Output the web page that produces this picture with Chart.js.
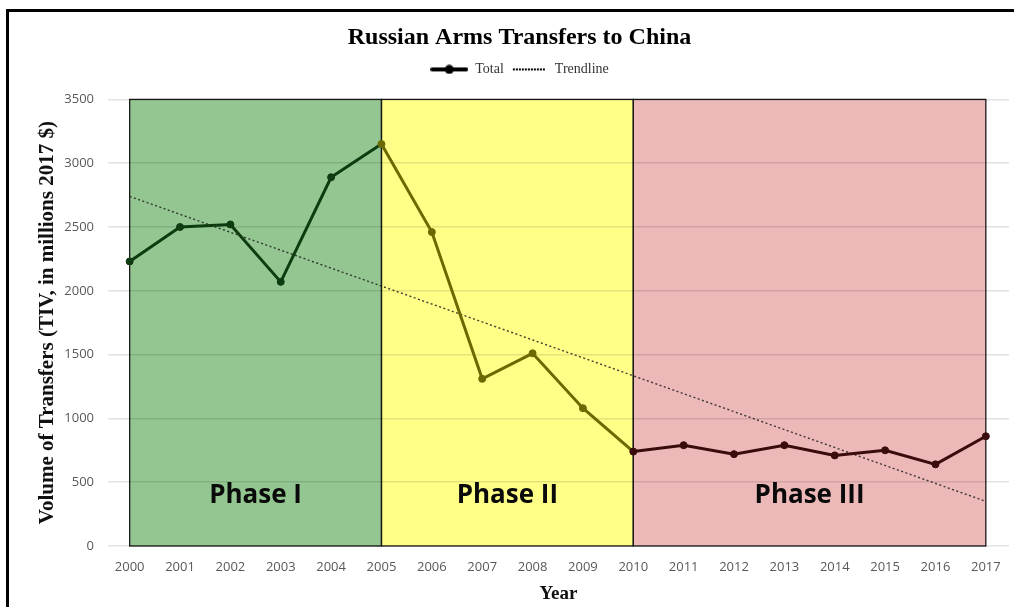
<!DOCTYPE html>
<html>
<head>
<meta charset="utf-8">
<script src="https://cdn.jsdelivr.net/npm/chart.js@4/dist/chart.umd.min.js"></script>
<style>
  html, body { margin: 0; padding: 0; background: #fff; }
  #wrap { width: 1014px; height: 607px; position: relative; }
</style>
</head>
<body>
<div id="wrap"><canvas id="c" width="1014" height="607"></canvas></div>
<script>
// ---- data ----
const chartTitle = 'Russian Arms Transfers to China';
const years = [2000, 2001, 2002, 2003, 2004, 2005, 2006, 2007, 2008, 2009, 2010, 2011, 2012, 2013, 2014, 2015, 2016, 2017];
const totals = [2230, 2500, 2520, 2070, 2890, 3150, 2460, 1310, 1510, 1080, 740, 790, 720, 790, 710, 750, 640, 860];
const trendYears = [2000, 2017];
const trendValues = [2740, 350];
const yTicks = [0, 500, 1000, 1500, 2000, 2500, 3000, 3500];
const phaseNames = ['Phase I', 'Phase II', 'Phase III'];
const phaseStart = [2000, 2005, 2010];
const phaseEnd = [2005, 2010, 2017];
const legendLabels = ['Total', 'Trendline'];
const yAxisTitle = 'Volume of Transfers (TIV, in millions 2017 $)';
const xAxisTitle = 'Year';

// ---- styles ----
const phaseFill = ['#93c690', '#ffff88', '#ecb8b8'];
const phaseLine = ['#0f3b10', '#6b6a00', '#3a0c0c'];
function phaseIndex(x) { return x < phaseStart[1] ? 0 : (x < phaseStart[2] ? 1 : 2); }

// legend icons
function makeTotalIcon() {
  const c = document.createElement('canvas'); c.width = 38; c.height = 10;
  const g = c.getContext('2d');
  g.strokeStyle = '#000'; g.lineWidth = 4; g.lineCap = 'round';
  g.beginPath(); g.moveTo(2, 5); g.lineTo(36, 5); g.stroke();
  g.fillStyle = '#000'; g.beginPath(); g.arc(19, 5, 4.5, 0, Math.PI * 2); g.fill();
  return c;
}
function makeTrendIcon() {
  const c = document.createElement('canvas'); c.width = 34; c.height = 4;
  const g = c.getContext('2d');
  g.fillStyle = '#000';
  for (let x = 1; x < 33; x += 3) g.fillRect(x, 1, 2, 2);
  return c;
}
const totalIcon = makeTotalIcon();
const trendIcon = makeTrendIcon();

const phasePlugin = {
  id: 'phases',
  beforeDraw(chart) {
    const { ctx, scales: { x, y } } = chart;
    const top = y.getPixelForValue(yTicks[yTicks.length - 1]);
    const bottom = y.getPixelForValue(0);
    ctx.save();
    for (let i = 0; i < phaseNames.length; i++) {
      const l = x.getPixelForValue(phaseStart[i]);
      const r = x.getPixelForValue(phaseEnd[i]);
      ctx.fillStyle = phaseFill[i];
      ctx.fillRect(l, top, r - l, bottom - top);
    }
    ctx.strokeStyle = '#1a1a1a';
    ctx.lineWidth = 1.3;
    for (let i = 0; i < phaseNames.length; i++) {
      const l = x.getPixelForValue(phaseStart[i]);
      const r = x.getPixelForValue(phaseEnd[i]);
      ctx.strokeRect(l, top, r - l, bottom - top);
    }
    ctx.restore();
  },
  afterDatasetsDraw(chart) {
    const { ctx, scales: { x, y } } = chart;
    const bottom = y.getPixelForValue(0);
    ctx.save();
    ctx.font = 'bold 26px "Open Sans"';
    ctx.fillStyle = '#0a0a0a';
    ctx.textAlign = 'center';
    ctx.textBaseline = 'middle';
    for (let i = 0; i < phaseNames.length; i++) {
      const cx = (x.getPixelForValue(phaseStart[i]) + x.getPixelForValue(phaseEnd[i])) / 2;
      ctx.fillText(phaseNames[i], cx, bottom - 50);
    }
    ctx.restore();
  },
  afterDraw(chart) {
    const ctx = chart.ctx;
    ctx.save();
    ctx.fillStyle = '#000';
    ctx.fillRect(6, 9, 3, 610);
    ctx.fillRect(6, 9, 1020, 3);
    ctx.restore();
  }
};

const spacerPlugin = {
  id: 'spacer',
  beforeInit(chart) {
    const box = {
      position: 'top', weight: 500, fullSize: true, options: {},
      left: 0, top: 0, right: 0, bottom: 0, width: 0, height: 0,
      isHorizontal() { return true; },
      update(maxWidth) { this.width = maxWidth; this.height = 13; },
      draw() {}
    };
    Chart.layouts.addBox(chart, box);
  }
};

new Chart(document.getElementById('c'), {
  type: 'line',
  data: {
    datasets: [
      {
        label: legendLabels[0],
        data: years.map((yr, i) => ({ x: yr, y: totals[i] })),
        borderColor: '#000',
        borderWidth: 3,
        segment: { borderColor: c => phaseLine[phaseIndex(c.p0.parsed.x)] },
        pointRadius: 3.5,
        pointBackgroundColor: c => phaseLine[phaseIndex(years[c.dataIndex])],
        pointBorderColor: c => phaseLine[phaseIndex(years[c.dataIndex])],
        pointBorderWidth: 1,
        tension: 0,
        order: 1
      },
      {
        label: legendLabels[1],
        data: trendYears.map((yr, i) => ({ x: yr, y: trendValues[i] })),
        borderColor: 'rgba(30,30,30,0.85)',
        borderWidth: 1.4,
        borderDash: [2, 2.5],
        pointRadius: 0,
        tension: 0,
        order: 2
      }
    ]
  },
  options: {
    responsive: false,
    animation: false,
    layout: { padding: { left: 30, right: 5, top: 12, bottom: 0 } },
    plugins: {
      title: {
        display: true,
        text: chartTitle,
        color: '#000',
        font: { family: '"Liberation Serif", "Times New Roman", serif', size: 24, weight: 'bold' },
        padding: { top: 11, bottom: 4.6 }
      },
      legend: {
        display: true,
        position: 'top',
        labels: {
          usePointStyle: true,
          pointStyleWidth: 38,
          padding: 6,
          color: '#333',
          font: { family: '"Liberation Serif", "Times New Roman", serif', size: 14 },
          generateLabels: () => [
            { text: legendLabels[0], pointStyle: totalIcon, fillStyle: '#000', strokeStyle: '#000', lineWidth: 0, hidden: false, datasetIndex: 0, fontColor: '#333' },
            { text: legendLabels[1], pointStyle: trendIcon, fillStyle: '#000', strokeStyle: '#000', lineWidth: 0, hidden: false, datasetIndex: 1, fontColor: '#333' }
          ]
        }
      },
      tooltip: { enabled: false }
    },
    scales: {
      x: {
        type: 'linear',
        min: 1999.57,
        max: 2017.46,
        afterBuildTicks: s => { s.ticks = years.map(v => ({ value: v })); },
        afterFit: s => { s.height = 61; },
        grid: { display: false, drawTicks: false },
        border: { display: false },
        ticks: {
          autoSkip: false, maxRotation: 0, padding: 13,
          color: '#595959',
          font: { family: '"Open Sans", sans-serif', size: 13 },
          callback: v => String(v)
        },
        title: {
          display: true, text: xAxisTitle, color: '#111',
          font: { family: '"Liberation Serif", "Times New Roman", serif', size: 19, weight: 'bold' },
          padding: { top: 0, bottom: 2 }
        }
      },
      y: {
        min: 0, max: 3500,
        afterBuildTicks: s => { s.ticks = yTicks.map(v => ({ value: v })); },
        afterFit: s => { s.width = 78; },
        grid: { color: 'rgba(0,0,0,0.11)', lineWidth: 1.6, drawTicks: false },
        border: { display: false },
        ticks: {
          padding: 14,
          color: '#595959',
          font: { family: '"Open Sans", sans-serif', size: 13 },
          callback: v => String(v)
        },
        title: {
          display: true, text: yAxisTitle, color: '#111',
          font: { family: '"Liberation Serif", "Times New Roman", serif', size: 21, weight: 'bold' },
          padding: { top: 4.5, bottom: 0 }
        }
      }
    }
  },
  plugins: [phasePlugin, spacerPlugin]
});
</script>
</body>
</html>
